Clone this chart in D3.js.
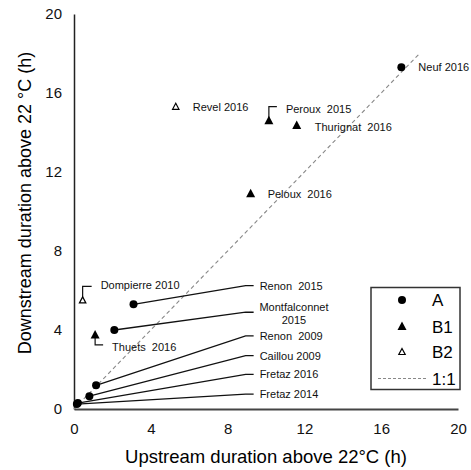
<!DOCTYPE html>
<html>
<head>
<meta charset="utf-8">
<script src="https://cdn.jsdelivr.net/npm/d3@7"></script>
<style>
  body { margin: 0; background: #fff; }
  svg { font-family: "Liberation Sans", Arial, sans-serif; }
  .lbl { font-size: 11px; fill: #111; white-space: pre; }
  .tick text { font-size: 15px; fill: #111; }
</style>
</head>
<body>
<div id="chart"></div>
<script>
// stations and their durations above 22 °C (hours)
var sites      = ["Neuf 2016", "Renon  2015", "Montfalconnet 2015", "Renon  2009", "Caillou 2009", "Fretaz 2016", "Fretaz 2014",
                  "Peroux  2015", "Thurignat  2016", "Peloux  2016", "Thuets  2016", "Revel 2016", "Dompierre 2010"];
var groups     = ["A", "A", "A", "A", "A", "A", "A", "B1", "B1", "B1", "B1", "B2", "B2"];
var upstream   = [17.05, 3.1, 2.1, 1.15, 0.8, 0.2, 0.15, 10.15, 11.6, 9.2, 1.1, 5.3, 0.45];
var downstream = [17.3, 5.3, 4.0, 1.2, 0.65, 0.3, 0.25, 14.6, 14.35, 10.9, 3.75, 15.3, 5.5];
var xTicks = [0, 4, 8, 12, 16, 20];
var yTicks = [0, 4, 8, 12, 16, 20];
var legendItems = ["A", "B1", "B2", "1:1"];

var W = 471, H = 470;
var x = d3.scaleLinear().domain([0, 20]).range([74, 458]);
var y = d3.scaleLinear().domain([0, 20]).range([409, 14]);

var svg = d3.select("#chart").append("svg")
    .attr("width", W)
    .attr("height", H);

// axes
var xAxis = svg.append("g")
    .attr("transform", "translate(0," + y(0) + ")")
    .call(d3.axisBottom(x).tickValues(xTicks).tickSize(0).tickPadding(14));
xAxis.select(".domain").attr("stroke", "#444").attr("stroke-width", 2.2);

var yAxis = svg.append("g")
    .attr("transform", "translate(" + x(0) + ",0)")
    .call(d3.axisLeft(y).tickValues(yTicks).tickSize(0).tickPadding(12));
yAxis.select(".domain").attr("stroke", "#222").attr("stroke-width", 1.5);

svg.append("text")
    .attr("x", 266).attr("y", 463)
    .attr("text-anchor", "middle")
    .style("font-size", "18.5px")
    .text("Upstream duration above 22°C (h)");

svg.append("text")
    .attr("transform", "translate(31,203) rotate(-90)")
    .attr("text-anchor", "middle")
    .style("font-size", "18px")
    .text("Downstream duration above 22 °C (h)");

// 1:1 line
svg.append("line")
    .attr("x1", x(0)).attr("y1", y(0))
    .attr("x2", x(18)).attr("y2", y(18))
    .attr("stroke", "#888").attr("stroke-width", 1.1)
    .attr("stroke-dasharray", "4,3");

// leader lines for the A stations near the origin, labels set out at right
var leaders = {
  "Renon  2015":        [9.2, 6.25],
  "Montfalconnet 2015": [9.2, 4.9],
  "Renon  2009":        [9.2, 3.7],
  "Caillou 2009":       [9.2, 2.7],
  "Fretaz 2016":        [9.2, 1.75],
  "Fretaz 2014":        [9.2, 0.75]
};

var data = sites.map(function(s, i) {
  return { name: s, group: groups[i], up: upstream[i], down: downstream[i] };
});

data.forEach(function(d) {
  var L = leaders[d.name];
  if (!L) return;
  svg.append("path")
      .attr("d", "M" + x(d.up) + "," + y(d.down) + "L" + (x(L[0]) - 5) + "," + y(L[1]) + "l8,0")
      .attr("fill", "none").attr("stroke", "#111").attr("stroke-width", 1.3);
  if (d.name === "Montfalconnet 2015") {
    var t = svg.append("text").attr("class", "lbl").attr("text-anchor", "middle");
    t.append("tspan").attr("x", 294).attr("y", y(L[1]) - 1).text("Montfalconnet");
    t.append("tspan").attr("x", 294).attr("y", y(L[1]) + 12).text("2015");
  } else {
    svg.append("text").attr("class", "lbl")
        .attr("x", x(L[0]) + 9).attr("y", y(L[1]) + 4)
        .text(d.name);
  }
});

// brackets for B stations
function bracket(d, dyUp, dx) {
  var px = x(d.up), py = y(d.down);
  svg.append("path")
      .attr("d", "M" + px + "," + (py - 2) + "L" + px + "," + (py + dyUp) + "l" + dx + ",0")
      .attr("fill", "none").attr("stroke", "#111").attr("stroke-width", 1.2);
}

var labelOffsets = {
  "Neuf 2016":       [17, 4],
  "Peroux  2015":    [17, -8],
  "Thurignat  2016": [18, 5],
  "Peloux  2016":    [17, 4],
  "Thuets  2016":    [17, 16],
  "Revel 2016":      [17, 4],
  "Dompierre 2010":  [18, -11]
};

data.forEach(function(d) {
  if (d.name === "Peroux  2015") bracket(d, -14, 8);
  if (d.name === "Dompierre 2010") bracket(d, -14, 9);
  if (d.name === "Thuets  2016") bracket(d, 10, 8);
  var o = labelOffsets[d.name];
  if (!o) return;
  svg.append("text").attr("class", "lbl")
      .attr("x", x(d.up) + o[0]).attr("y", y(d.down) + o[1])
      .text(d.name);
});

// markers
function marker(sel, g, cx, cy) {
  if (g === "A") {
    sel.append("circle").attr("cx", cx).attr("cy", cy).attr("r", 4).attr("fill", "#000");
  } else if (g === "B1") {
    sel.append("path").attr("transform", "translate(" + cx + "," + cy + ")")
        .attr("d", "M0,-5L4.5,3.5L-4.5,3.5Z").attr("fill", "#000");
  } else {
    sel.append("path").attr("transform", "translate(" + cx + "," + cy + ")")
        .attr("d", "M0,-3.5L3.2,2.5L-3.2,2.5Z").attr("fill", "#fff")
        .attr("stroke", "#000").attr("stroke-width", 1.2);
  }
}

var pts = svg.append("g");
data.forEach(function(d) { marker(pts, d.group, x(d.up), y(d.down)); });

// legend
var lg = svg.append("g");
lg.append("rect")
    .attr("x", 371).attr("y", 287.5).attr("width", 89).attr("height", 102)
    .attr("fill", "#fff").attr("stroke", "#333").attr("stroke-width", 1.5);
var legY = [300, 326.5, 352, 378.5];
legendItems.forEach(function(k, i) {
  if (k === "1:1") {
    lg.append("line").attr("x1", 378).attr("x2", 428).attr("y1", legY[i]).attr("y2", legY[i])
        .attr("stroke", "#888").attr("stroke-dasharray", "3,2");
  } else {
    marker(lg, k, 402, legY[i]);
  }
  lg.append("text").attr("x", 432).attr("y", legY[i] + 6)
      .style("font-size", "17px").text(k);
});
</script>
</body>
</html>
